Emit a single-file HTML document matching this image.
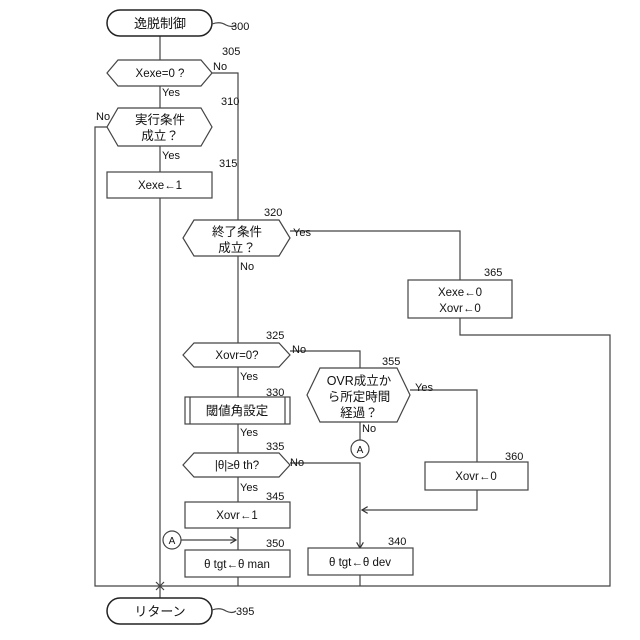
<!DOCTYPE html>
<html><head><meta charset="utf-8"><style>
html,body{margin:0;padding:0;background:#fff}
svg{display:block}
text{font-family:"Liberation Sans","Noto Sans CJK JP",sans-serif;fill:#111}
</style></head><body>
<svg width="640" height="640" viewBox="0 0 640 640" xmlns="http://www.w3.org/2000/svg">
<defs><marker id="ar" markerWidth="6" markerHeight="6" refX="5" refY="3" orient="auto"><path d="M0,0 L5,3 L0,6" fill="none" stroke="#333" stroke-width="1"/></marker></defs>
<g stroke="#444" stroke-width="1.2" fill="none">
<!-- main verticals -->
<line x1="160" y1="36" x2="160" y2="598"/>
<polyline points="212,73 238,73 238,220"/>
<line x1="238" y1="256" x2="238" y2="343"/>
<line x1="238" y1="367" x2="238" y2="586"/>
<polyline points="107,127 95,127 95,586 610,586 610,335 460,335 460,318"/>
<polyline points="290,231 460,231 460,280"/>
<polyline points="290,351 360,351 360,368"/>
<line x1="360" y1="422" x2="360" y2="440"/>
<polyline points="410,390 477,390 477,462"/>
<polyline points="477,490 477,510 362,510" marker-end="url(#ar)"/>
<polyline points="290,463 360,463 360,548" marker-end="url(#ar)"/>
<line x1="360" y1="575" x2="360" y2="586"/>
<line x1="181" y1="540" x2="236" y2="540" marker-end="url(#ar)"/>
<!-- shapes -->
<rect x="107" y="10" width="105" height="26" rx="13" fill="#fff" stroke="#222" stroke-width="1.5"/>
<rect x="107" y="598" width="105" height="26" rx="13" fill="#fff" stroke="#222" stroke-width="1.5"/>
<polygon points="118,60 201,60 212,73 201,86 118,86 107,73" fill="#fff"/>
<polygon points="118,108 201,108 212,127 201,146 118,146 107,127" fill="#fff"/>
<rect x="107" y="172" width="105" height="26" fill="#fff"/>
<polygon points="194,220 279,220 290,238 279,256 194,256 183,238" fill="#fff"/>
<rect x="408" y="280" width="104" height="38" fill="#fff"/>
<polygon points="194,343 279,343 290,355 279,367 194,367 183,355" fill="#fff"/>
<polygon points="320,368 397,368 410,395 397,422 320,422 307,395" fill="#fff"/>
<rect x="185" y="397" width="105" height="27" fill="#fff"/>
<line x1="190" y1="397" x2="190" y2="424"/><line x1="285" y1="397" x2="285" y2="424"/>
<rect x="425" y="462" width="103" height="28" fill="#fff"/>
<polygon points="194,453 279,453 290,465 279,477 194,477 183,465" fill="#fff"/>
<rect x="185" y="502" width="105" height="26" fill="#fff"/>
<rect x="185" y="550" width="105" height="27" fill="#fff"/>
<rect x="308" y="548" width="105" height="27" fill="#fff"/>
<circle cx="172" cy="540" r="9" fill="#fff"/>
<circle cx="360" cy="449" r="9" fill="#fff"/>
<path d="M156,582 L164,590 M164,582 L156,590"/>
<!-- leaders -->
<path d="M212,24 q8,-3 14,1 q6,3 10,0"/>
<path d="M212,610 q8,-3 14,1 q6,3 10,0"/>
</g>
<g font-size="11.5" text-anchor="middle">
<text x="160" y="28" font-size="13">逸脱制御</text>
<text x="160" y="616" font-size="13">リターン</text>
<text x="160" y="77">Xexe=0 ?</text>
<text x="160" y="124" font-size="12.5">実行条件</text>
<text x="160" y="140" font-size="12.5">成立？</text>
<text x="160" y="189">Xexe←1</text>
<text x="237" y="236" font-size="12.5">終了条件</text>
<text x="237" y="252" font-size="12.5">成立？</text>
<text x="460" y="296">Xexe←0</text>
<text x="460" y="312">Xovr←0</text>
<text x="237" y="359">Xovr=0?</text>
<text x="359" y="385" font-size="12.5">OVR成立か</text>
<text x="359" y="401" font-size="12.5">ら所定時間</text>
<text x="359" y="417" font-size="12.5">経過？</text>
<text x="237" y="415" font-size="12.5">閾値角設定</text>
<text x="476" y="480">Xovr←0</text>
<text x="237" y="469">|θ|≥θ th?</text>
<text x="237" y="519">Xovr←1</text>
<text x="237" y="568">θ tgt←θ man</text>
<text x="360" y="566">θ tgt←θ dev</text>
<text x="172" y="544" font-size="10">A</text>
<text x="360" y="453" font-size="10">A</text>
</g>
<g font-size="11">
<text x="231" y="30">300</text>
<text x="236" y="615">395</text>
<text x="222" y="55">305</text>
<text x="221" y="105">310</text>
<text x="219" y="167">315</text>
<text x="264" y="216">320</text>
<text x="484" y="276">365</text>
<text x="266" y="339">325</text>
<text x="382" y="365">355</text>
<text x="266" y="396">330</text>
<text x="505" y="460">360</text>
<text x="266" y="450">335</text>
<text x="266" y="500">345</text>
<text x="266" y="547">350</text>
<text x="388" y="545">340</text>
<text x="213" y="70">No</text>
<text x="162" y="96">Yes</text>
<text x="96" y="120">No</text>
<text x="162" y="159">Yes</text>
<text x="293" y="236">Yes</text>
<text x="240" y="270">No</text>
<text x="292" y="353">No</text>
<text x="240" y="380">Yes</text>
<text x="415" y="391">Yes</text>
<text x="362" y="432">No</text>
<text x="240" y="436">Yes</text>
<text x="290" y="466">No</text>
<text x="240" y="491">Yes</text>
</g>
</svg>
</body></html>
